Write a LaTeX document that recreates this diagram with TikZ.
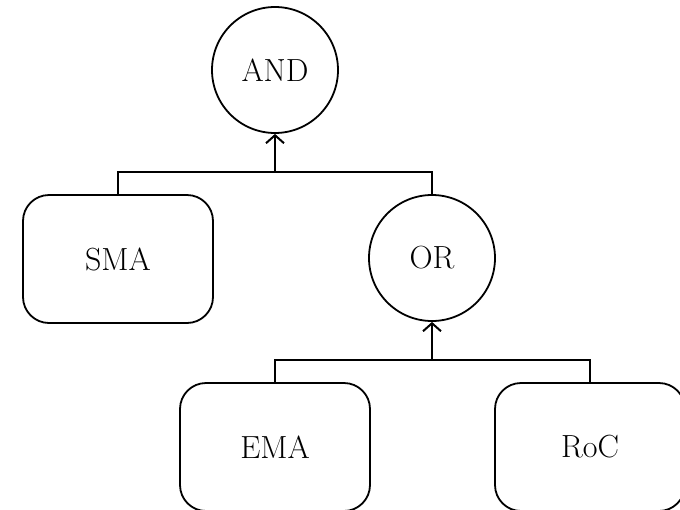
\documentclass[tikz,border=0pt]{standalone}
\usepackage{tikz}
\usetikzlibrary{arrows.meta}
\tikzstyle{gate} = [draw, circle, line width=0.9pt, minimum size=63pt, inner sep=0pt]
\tikzstyle{signal} = [draw, rounded corners=13pt, line width=0.9pt, minimum width=95pt, minimum height=64pt, inner sep=0pt]
\tikzstyle{wire} = [draw, line width=1pt]

\begin{document}
\begin{tikzpicture}[x=0.5pt,y=-0.5pt,font=\fontsize{16}{19}\selectfont,>={Straight Barb[width=9pt,length=4pt]}]
      \useasboundingbox (0,0) rectangle (680,509);

      % gates
      \node[gate] (and) at (275,70) {AND};
      \node[gate] (or) at (432,258) {OR};

      % indicators
      \node[signal] (sma) at (118,259) {SMA};
      \node[signal] (ema) at (275,447) {EMA};
      \node[signal] (roc) at (590,447) {RoC};

      % junctions
      \coordinate (j1) at (275,172);
      \coordinate (j2) at (432,360);

      % connections
      \draw[wire] (sma.north) |- (j1) -| (or.north);
      \draw[wire,->] (j1) -- (and.south);
      \draw[wire] (ema.north) |- (j2) -| (roc.north);
      \draw[wire,->] (j2) -- (or.south);
    \end{tikzpicture}
\end{document}
